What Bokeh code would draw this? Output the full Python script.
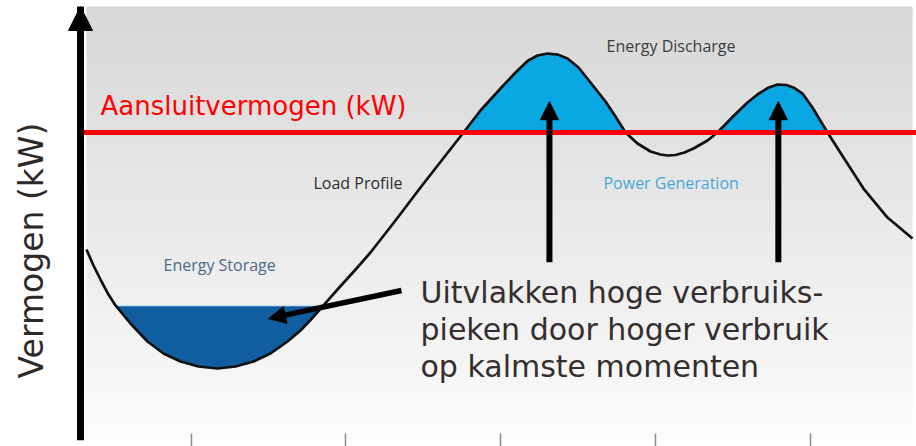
import numpy as np
from bokeh.plotting import figure
from bokeh.models import Range1d, Label, Arrow, NormalHead, FixedTicker
from bokeh.embed import file_html
from bokeh.resources import INLINE

# ---------------- data ----------------
time_h = [0.000, 0.203, 0.407, 0.639, 0.843, 1.278, 1.772, 2.237, 2.731, 3.254,
          3.806, 4.329, 4.852, 5.346, 5.840, 6.217, 6.508, 6.886, 7.292, 7.844,
          8.251, 8.977, 9.704, 10.430, 10.953, 11.447, 12.028, 12.464, 12.812, 13.103,
          13.394, 13.684, 13.975, 14.294, 14.643, 15.079, 15.369, 15.660, 16.008, 16.386,
          16.676, 16.880, 17.112, 17.374, 17.635, 18.042, 18.332, 18.797, 19.204, 19.494,
          19.785, 20.076, 20.337, 20.569, 20.802, 21.092, 21.528, 21.993, 22.574, 23.271,
          23.998]
load_kw = [43.41, 39.77, 36.59, 33.18, 30.70, 26.59, 22.50, 19.77, 17.95, 16.82,
           16.36, 16.82, 17.95, 19.77, 22.50, 25.00, 27.39, 30.70, 34.32, 39.09,
           42.73, 50.00, 57.50, 64.77, 70.00, 75.00, 80.00, 83.64, 86.25, 87.50,
           87.95, 87.73, 86.82, 84.77, 81.36, 77.05, 73.64, 70.00, 67.50, 65.68,
           65.00, 64.77, 64.89, 65.45, 66.36, 68.18, 70.00, 73.75, 76.82, 78.64,
           80.11, 80.91, 80.80, 80.11, 78.86, 75.68, 70.00, 64.32, 57.27, 50.68,
           45.91]
capacity_kw = 70.0
storage_level_kw = 30.7
tick_hours = [3.05, 7.52, 12.03, 16.53, 21.03]

y_axis_title = "Vermogen (kW)"
capacity_title = "Aansluitvermogen (kW)"
region_labels = ["Energy Storage", "Load Profile", "Energy Discharge", "Power Generation"]
note_lines = ["Uitvlakken hoge verbruiks-", "pieken door hoger verbruik", "op kalmste momenten"]

# ---------------- figure ----------------
X0, X1 = -2.4985, 24.114
Y0, Y1 = 0.0, 98.64
AXIS_X = -0.174
p = figure(width=916, height=446, output_backend="svg", toolbar_location=None,
           x_range=Range1d(X0, X1), y_range=Range1d(Y0, Y1),
           min_border_left=0, min_border_right=0, min_border_top=6, min_border_bottom=0,
           background_fill_color="white", border_fill_color="white",
           outline_line_color=None)
p.grid.visible = False

# left axis: a thick black line (arrow shaft) at a fixed location
yax = p.yaxis[0]
yax.fixed_location = AXIS_X
yax.ticker = FixedTicker(ticks=[])
yax.axis_line_width = 7
yax.axis_line_color = "black"
yax.axis_line_cap = "butt"
yax.major_tick_line_color = None
yax.major_tick_out = 0
yax.major_tick_in = 0
yax.minor_tick_line_color = None
yax.minor_tick_out = 0
yax.major_label_text_font_size = "0px"
yax.major_label_text_color = None
yax.major_label_standoff = 0

# bottom axis: only small gray ticks
xax = p.xaxis[0]
xax.ticker = FixedTicker(ticks=tick_hours)
xax.axis_line_color = None
xax.major_tick_line_color = "#8a8a8a"
xax.major_tick_line_width = 1.5
xax.major_tick_in = 7
xax.major_tick_out = 6
xax.minor_tick_line_color = None
xax.minor_tick_out = 0
xax.major_label_text_font_size = "0px"
xax.major_label_text_color = None
xax.major_label_standoff = 0

# background gradient (decoration)
rows = 434
frac = np.linspace(0.0, 1.0, rows)[:, None]          # 0 bottom -> 1 top
c_bottom = np.array([252, 252, 252])
c_top = np.array([215, 215, 215])
cols = (c_bottom + (c_top - c_bottom) * frac).astype(np.uint8)
img = np.empty((rows, 1), dtype=np.uint32)
view = img.view(dtype=np.uint8).reshape((rows, 1, 4))
view[:, 0, 0:3] = cols
view[:, 0, 3] = 255
p.image_rgba(image=[img], x=0.0, y=Y0, dw=24.0, dh=98.9)

x = np.array(time_h)
y = np.array(load_kw)

# storage (dark blue) and discharge (light blue) areas
p.varea(x=x, y1=np.minimum(y, storage_level_kw), y2=storage_level_kw,
        fill_color="#105ea0", fill_alpha=1.0)
p.varea(x=x, y1=capacity_kw, y2=np.maximum(y, capacity_kw),
        fill_color="#0aa8e2", fill_alpha=1.0)
edge_x = x[y == storage_level_kw]
p.line(x=edge_x, y=[storage_level_kw] * len(edge_x), line_color="#cfe6f6", line_width=1.5)

# load profile curve
p.line(x=x, y=y, line_color="#111111", line_width=2.7, line_join="round")

# connection capacity line (from the y axis to the right edge)
p.ray(x=[AXIS_X - 0.08], y=[capacity_kw], length=0, angle=0,
      line_color="#ff0000", line_width=5)

# arrows
p.add_layout(Arrow(end=NormalHead(size=24, fill_color="black", line_color="black", line_width=1),
                   x_start=AXIS_X, y_start=90, x_end=AXIS_X, y_end=Y1,
                   line_width=7, line_color="black"))
p.add_layout(Arrow(end=NormalHead(size=17, fill_color="black", line_color="black", line_width=1),
                   x_start=9.15, y_start=34.1, x_end=5.29, y_end=27.7,
                   line_width=5.5, line_color="black"))
for xa in (13.45, 20.10):
    p.add_layout(Arrow(end=NormalHead(size=18, fill_color="black", line_color="black", line_width=1),
                       x_start=xa, y_start=40.5, x_end=xa, y_end=77.0,
                       line_width=6, line_color="black"))

# texts
p.add_layout(Label(x=0.407, y=76.13, text=capacity_title, text_font="DejaVu Sans",
                   text_font_size="26px", text_color="#ff0000", text_baseline="alphabetic"))
p.add_layout(Label(x=-1.612, y=43.18, text=y_axis_title, angle=np.pi / 2, text_font="DejaVu Sans",
                   text_font_size="33px", text_color="#2e2929", text_align="center",
                   text_baseline="alphabetic"))

small_pos = [(2.237, 40.0), (6.595, 58.6), (15.11, 89.77), (15.02, 58.6)]
small_col = ["#4d6a86", "#2d2d2d", "#3c3c3c", "#4aa6d8"]
for txt, (lx, ly), col in zip(region_labels, small_pos, small_col):
    p.add_layout(Label(x=lx, y=ly, text=txt, text_font="Open Sans",
                       text_font_size="16px", text_color=col, text_baseline="alphabetic"))

note_y = [33.75, 25.23, 16.71]
for txt, ly in zip(note_lines, note_y):
    p.add_layout(Label(x=9.704, y=ly, text=txt, text_font="DejaVu Sans",
                       text_font_size="30px", text_color="#352e2e", text_baseline="alphabetic"))

open("out.html", "w").write(file_html(p, INLINE))
